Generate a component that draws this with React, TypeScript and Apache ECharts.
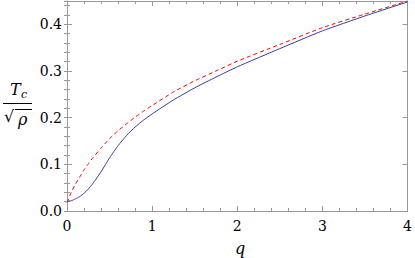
import React, { useEffect, useRef } from "react";
import * as echarts from "echarts";

const qValues = [0, 0.05, 0.1, 0.15, 0.2, 0.25, 0.3, 0.4, 0.5, 0.6, 0.7, 0.8, 0.9, 1.0, 1.25, 1.5, 1.75, 2.0, 2.5, 3.0, 3.5, 4.0];
const redDashed = [0.018, 0.04, 0.058, 0.073, 0.088, 0.101, 0.113, 0.135, 0.155, 0.172, 0.187, 0.201, 0.214, 0.226, 0.255, 0.279, 0.3, 0.321, 0.357, 0.393, 0.422, 0.45];
const blueSolid = [0.021, 0.022, 0.026, 0.031, 0.038, 0.047, 0.058, 0.084, 0.114, 0.14, 0.162, 0.18, 0.195, 0.208, 0.238, 0.264, 0.287, 0.309, 0.348, 0.386, 0.418, 0.448];
const xTicks = [0, 1, 2, 3, 4];
const yTicks = [0, 0.1, 0.2, 0.3, 0.4];

const FRAME = "#999999";
const SERIF = "DejaVu Serif";

export default function App() {
  const ref = useRef<HTMLDivElement>(null);
  useEffect(() => {
    if (!ref.current) return;
    const chart = echarts.init(ref.current, undefined, { renderer: "svg" });
    const majorTick = { show: true, inside: true, length: 5, lineStyle: { color: FRAME, width: 1 } };
    const minorTick = { show: true, splitNumber: 5, length: 3, lineStyle: { color: FRAME, width: 1 } };
    const xBase = {
      type: "value" as const,
      min: xTicks[0],
      max: xTicks[xTicks.length - 1],
      interval: 1,
      splitLine: { show: false },
      axisLine: { show: true, onZero: false, lineStyle: { color: FRAME, width: 1 } },
      axisTick: majorTick,
      minorTick: minorTick,
    };
    const yMax = 0.45;
    const yBase = {
      type: "value" as const,
      min: yTicks[0],
      max: yMax,
      splitLine: { show: false },
      axisLine: { show: true, onZero: false, lineStyle: { color: FRAME, width: 1 } },
    };
    const txt = (text: string, left: number, top: number, size: number, italic: boolean) => ({
      type: "text",
      left,
      top,
      style: { text, fontFamily: SERIF, fontSize: size, fontStyle: italic ? "italic" : "normal", fill: "#000" },
    });
    chart.setOption({
      animation: false,
      textStyle: { fontFamily: SERIF },
      grid: { left: 67, right: 5, top: 1, bottom: 47, containLabel: false },
      xAxis: [
        {
          ...xBase,
          position: "bottom",
          axisLabel: { show: true, fontFamily: SERIF, fontSize: 14, color: "#000", margin: 8 },
        },
        { ...xBase, position: "top", axisLabel: { show: false } },
      ],
      yAxis: [
        {
          ...yBase,
          position: "left",
          interval: 0.1,
          axisTick: majorTick,
          axisLabel: {
            show: true,
            fontFamily: SERIF,
            fontSize: 14,
            color: "#000",
            margin: 5,
            showMaxLabel: false,
            formatter: (v: number) => v.toFixed(1),
          },
        },
        {
          ...yBase,
          position: "left",
          interval: 0.02,
          axisLine: { show: false },
          axisTick: { show: true, inside: true, length: 3, lineStyle: { color: FRAME, width: 1 } },
          axisLabel: { show: false },
        },
        {
          ...yBase,
          position: "right",
          interval: 0.1,
          axisTick: majorTick,
          axisLabel: { show: false },
        },
        {
          ...yBase,
          position: "right",
          interval: 0.02,
          axisLine: { show: false },
          axisTick: { show: true, inside: true, length: 3, lineStyle: { color: FRAME, width: 1 } },
          axisLabel: { show: false },
        },
      ],
      series: [
        {
          type: "line",
          xAxisIndex: 0,
          yAxisIndex: 0,
          data: qValues.map((q, i) => [q, blueSolid[i]]),
          showSymbol: false,
          smooth: 0.15,
          lineStyle: { color: "#3d3d99", width: 1 },
          z: 2,
        },
        {
          type: "line",
          xAxisIndex: 0,
          yAxisIndex: 0,
          data: qValues.map((q, i) => [q, redDashed[i]]),
          showSymbol: false,
          smooth: 0.15,
          lineStyle: { color: "#ff0000", width: 1, type: [4, 3] },
          z: 3,
        },
      ],
      graphic: [
        txt("q", 235, 240, 16, true),
        txt("T", 10, 81, 16, true),
        txt("c", 21, 89, 11, true),
        { type: "line", shape: { x1: 3, y1: 103.5, x2: 32, y2: 103.5 }, style: { stroke: "#000", lineWidth: 1 } },
        txt("√", 4, 108, 16, false),
        { type: "line", shape: { x1: 15, y1: 109.5, x2: 32, y2: 109.5 }, style: { stroke: "#000", lineWidth: 1 } },
        txt("ρ", 18, 111, 16, true),
      ],
    });
    return () => chart.dispose();
  }, []);
  return <div ref={ref} style={{ position: "fixed", left: 0, top: 0, width: 415, height: 258, background: "#fff" }} />;
}
